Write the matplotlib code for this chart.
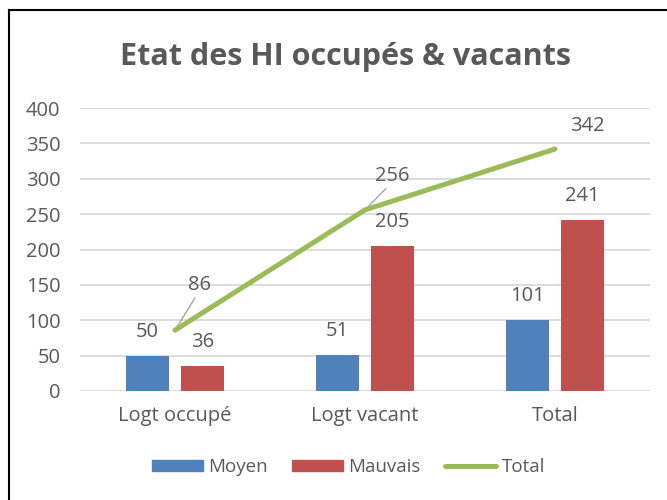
import matplotlib
matplotlib.use('Agg')
import matplotlib.pyplot as plt
from matplotlib.lines import Line2D

# Data
categories = ['Logt occupé', 'Logt vacant', 'Total']
moyen = [50, 51, 101]
mauvais = [36, 205, 241]
total = [86, 256, 342]

BLUE = '#4F81BD'
RED = '#C0504D'
GREEN = '#9BBB59'
TXT = '#595959'
GRID = '#D9D9D9'

plt.rcParams['font.family'] = ['Open Sans', 'DejaVu Sans']

fig = plt.figure(figsize=(6.67, 5), dpi=100)
ax = fig.add_axes([0.12, 0.218, 0.8545, 0.566])

x = list(range(len(categories)))
w = 0.225
off = 0.145
bars_m = ax.bar([i - off for i in x], moyen, width=w, color=BLUE, label='Moyen', zorder=2)
bars_v = ax.bar([i + off for i in x], mauvais, width=w, color=RED, label='Mauvais', zorder=2)
ax.plot(x, total, color=GREEN, lw=3.6, solid_capstyle='round', label='Total', zorder=3)

# bar labels
for bars, vals in [(bars_m, moyen), (bars_v, mauvais)]:
    for b, v in zip(bars, vals):
        ax.annotate(str(v), (b.get_x() + b.get_width() / 2, v), xytext=(0, 24),
                    textcoords='offset pixels', ha='center', va='center',
                    fontsize=14.5, color=TXT, zorder=4)

# line labels (with leader lines for the first two)
line_offsets = [(24, 45), (27, 34), (32, 23)]
for i, (v, (dx, dy)) in enumerate(zip(total, line_offsets)):
    props = None
    if i < 2:
        props = dict(arrowstyle='-', color='#A6A6A6', lw=1, shrinkA=0, shrinkB=3,
                     relpos=(0.4, 0.0))
    ax.annotate(str(v), (x[i], v), xytext=(dx, dy), textcoords='offset pixels',
                ha='center', va='center', fontsize=14.5, color=TXT,
                arrowprops=props, zorder=4)

ax.set_xlim(-0.5, 2.5)
ax.set_ylim(0, 400)
ax.set_yticks(range(0, 401, 50))
ax.set_xticks(x)
ax.set_xticklabels(categories)
ax.tick_params(axis='both', length=0, labelsize=14.5, labelcolor=TXT)
ax.tick_params(axis='y', pad=14)
ax.tick_params(axis='x', pad=11)
ax.grid(axis='y', color=GRID, lw=1.3, zorder=0)
ax.set_axisbelow(True)
for s in ax.spines.values():
    s.set_visible(False)

fig.text(0.518, 0.887, 'Etat des HI occupés & vacants', ha='center', va='center',
         fontsize=22, fontweight='bold', color=TXT)

handles = [plt.Rectangle((0, 0), 1, 1, color=BLUE),
           plt.Rectangle((0, 0), 1, 1, color=RED),
           Line2D([0], [0], color=GREEN, lw=3.6, solid_capstyle='round')]
fig.legend(handles, ['Moyen', 'Mauvais', 'Total'], loc='center', ncol=3,
           bbox_to_anchor=(0.5225, 0.066), frameon=False, fontsize=13.5,
           labelcolor=TXT, handlelength=2.7, handleheight=0.57,
           handletextpad=0.3, columnspacing=1.3)

# chart border (only left and top visible in the crop)
fig.add_artist(Line2D([0.0142, 0.0142], [0, 0.981], color='black', lw=1.5))
fig.add_artist(Line2D([0.0142, 1.0], [0.981, 0.981], color='black', lw=1.5))

fig.savefig('out.png', dpi=100)
